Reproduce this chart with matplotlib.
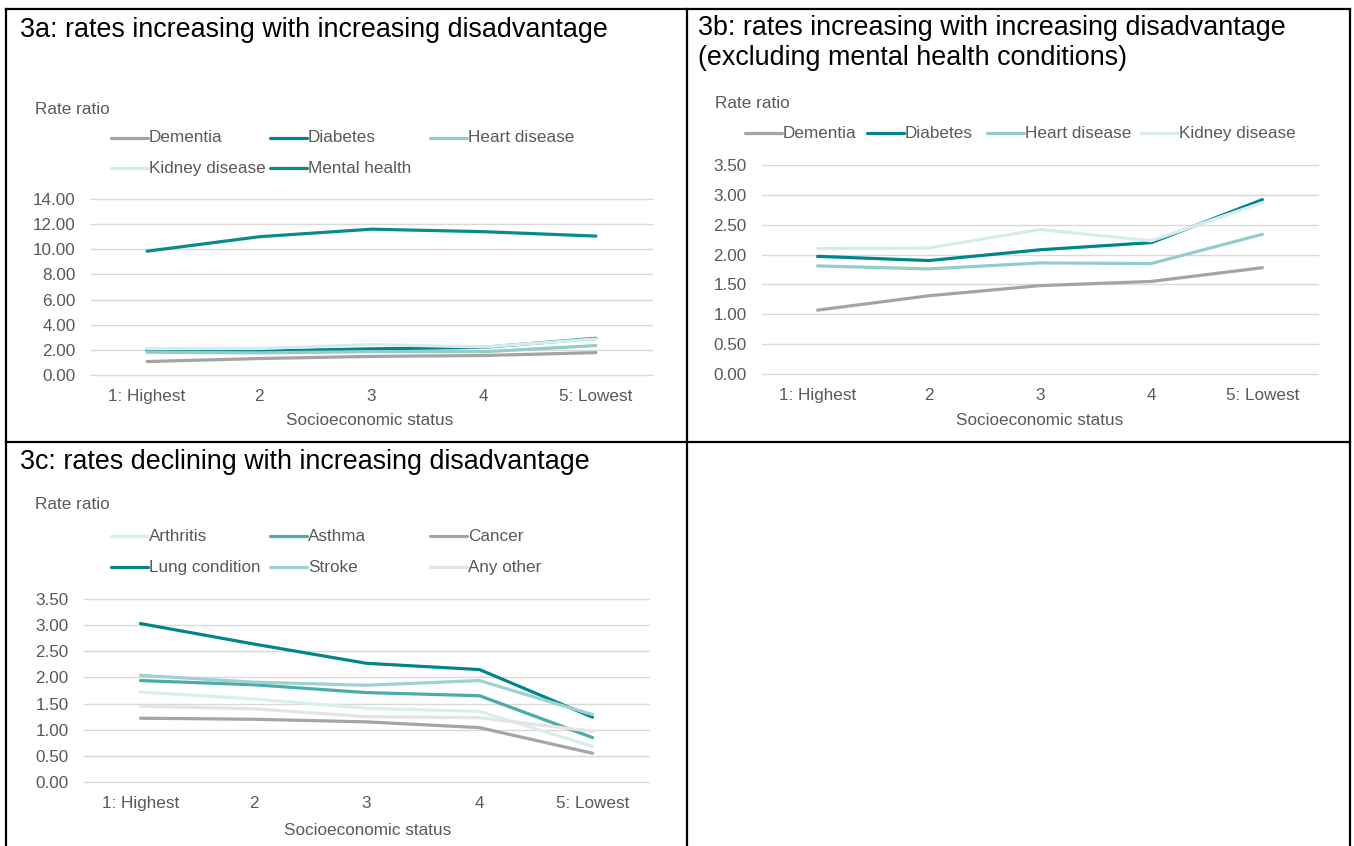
import numpy as np
import matplotlib
matplotlib.use("Agg")
import matplotlib.pyplot as plt
from matplotlib.lines import Line2D

plt.rcParams['font.family'] = ['Liberation Sans', 'DejaVu Sans']

status = ["1: Highest", "2", "3", "4", "5: Lowest"]

# rate ratios by socioeconomic status
dementia = [1.07, 1.31, 1.48, 1.55, 1.78]
diabetes = [1.97, 1.90, 2.08, 2.20, 2.92]
heart = [1.81, 1.76, 1.86, 1.85, 2.34]
kidney = [2.10, 2.11, 2.42, 2.23, 2.87]
mental = [9.85, 11.00, 11.60, 11.40, 11.05]

arthritis = [1.72, 1.59, 1.41, 1.35, 0.68]
asthma = [1.94, 1.86, 1.71, 1.65, 0.85]
cancer = [1.22, 1.20, 1.15, 1.04, 0.55]
lung = [3.03, 2.64, 2.27, 2.15, 1.24]
stroke = [2.04, 1.91, 1.85, 1.94, 1.29]
other = [1.45, 1.40, 1.25, 1.23, 0.97]

C_GREY = "#A6A3A3"
C_DARK = "#00868A"
C_MENTAL = "#0A8B8B"
C_HEART = "#93CDCB"
C_KIDNEY = "#D6ECEC"
C_ASTHMA = "#4AABA8"
C_STROKE = "#9CD2D0"
C_ARTH = "#D7EEEE"
C_OTHER = "#E4E4E4"
C_CANCER = "#A5A5A5"
TXT = "#595959"
FS = 12.3
LW = 2.3

W, H = 1354, 846
fig = plt.figure(figsize=(W / 100, H / 100), dpi=100)


def fx(x):
    return x / W


def fy(y):
    return 1 - y / H


def px_axes(x0, y0, x1, y1):
    return fig.add_axes([fx(x0), fy(y1), (x1 - x0) / W, (y1 - y0) / H])


def style(ax, ymax, step):
    ticks = np.arange(0, ymax + step / 2, step)
    ax.set_xlim(-0.5, 4.5)
    ax.set_ylim(0, ymax)
    ax.set_yticks(ticks)
    ax.set_yticklabels(["%.2f" % v for v in ticks])
    ax.set_xticks(range(5))
    ax.set_xticklabels(status)
    ax.grid(axis="y", color="#D9D9D9", lw=1)
    for g in ax.get_ygridlines():
        g.set_clip_on(False)
    ax.set_axisbelow(True)
    for s in ax.spines.values():
        s.set_visible(False)
    ax.tick_params(length=0, labelsize=FS, colors=TXT)
    ax.tick_params(axis="y", pad=11)
    ax.tick_params(axis="x", pad=10)


def series(ax, data):
    for vals, lab, col in data:
        ax.plot(range(5), vals, color=col, lw=LW, label=lab, solid_capstyle="round")


def legend(entries):
    # Excel style legend: short line, then the label, at fixed slots
    for lab, col, x, y in entries:
        fig.add_artist(Line2D([fx(x), fx(x + 37)], [fy(y), fy(y)], color=col, lw=LW,
                              solid_capstyle="round", transform=fig.transFigure))
        fig.text(fx(x + 38), fy(y), lab, fontsize=FS, color=TXT, va="center")


# 3a
ax1 = px_axes(91, 199, 652, 375)
series(ax1, [(dementia, "Dementia", C_GREY), (diabetes, "Diabetes", C_DARK),
             (heart, "Heart disease", C_HEART), (kidney, "Kidney disease", C_KIDNEY),
             (mental, "Mental health", C_MENTAL)])
style(ax1, 14, 2)
legend([("Dementia", C_GREY, 111, 138), ("Diabetes", C_DARK, 270, 138),
        ("Heart disease", C_HEART, 430, 138),
        ("Kidney disease", C_KIDNEY, 111, 168), ("Mental health", C_MENTAL, 270, 168)])

# 3b
ax2 = px_axes(762, 165, 1318, 374)
series(ax2, [(dementia, "Dementia", C_GREY), (diabetes, "Diabetes", C_DARK),
             (heart, "Heart disease", C_HEART), (kidney, "Kidney disease", C_KIDNEY)])
style(ax2, 3.5, 0.5)
legend([("Dementia", C_GREY, 745, 133), ("Diabetes", C_DARK, 867, 133),
        ("Heart disease", C_HEART, 987, 133), ("Kidney disease", C_KIDNEY, 1141, 133)])

# 3c
ax3 = px_axes(84, 599, 649, 782)
series(ax3, [(arthritis, "Arthritis", C_ARTH), (asthma, "Asthma", C_ASTHMA),
             (cancer, "Cancer", C_CANCER), (lung, "Lung condition", C_DARK),
             (stroke, "Stroke", C_STROKE), (other, "Any other", C_OTHER)])
style(ax3, 3.5, 0.5)
legend([("Arthritis", C_ARTH, 111, 536), ("Asthma", C_ASTHMA, 270, 536),
        ("Cancer", C_CANCER, 430, 536),
        ("Lung condition", C_DARK, 111, 567), ("Stroke", C_STROKE, 270, 567),
        ("Any other", C_OTHER, 430, 567)])


def ftext(x, y, s, **kw):
    fig.text(fx(x), fy(y), s, **kw)


TFS = 19.4
ftext(20, 30, "3a: rates increasing with increasing disadvantage", fontsize=TFS, va="center")
ftext(698, 28, "3b: rates increasing with increasing disadvantage", fontsize=TFS, va="center")
ftext(698, 58, "(excluding mental health conditions)", fontsize=TFS, va="center")
ftext(20, 462, "3c: rates declining with increasing disadvantage", fontsize=TFS, va="center")

for x, y in [(35, 109), (715, 104), (35, 504)]:
    ftext(x, y, "Rate ratio", fontsize=FS, color=TXT, va="center")
for x, y in [(370, 420), (1040, 420), (368, 830)]:
    ftext(x, y, "Socioeconomic status", fontsize=FS, color=TXT, va="center", ha="center")

# cell borders
for xs, ys in [((6, 1350), (9, 9)), ((6, 1350), (442, 442)), ((6, 6), (9, 846)),
               ((687, 687), (9, 846)), ((1350, 1350), (9, 846))]:
    fig.add_artist(Line2D([fx(x) for x in xs], [fy(y) for y in ys], color="black", lw=1.6,
                          transform=fig.transFigure))

fig.savefig("out.png", dpi=100)
